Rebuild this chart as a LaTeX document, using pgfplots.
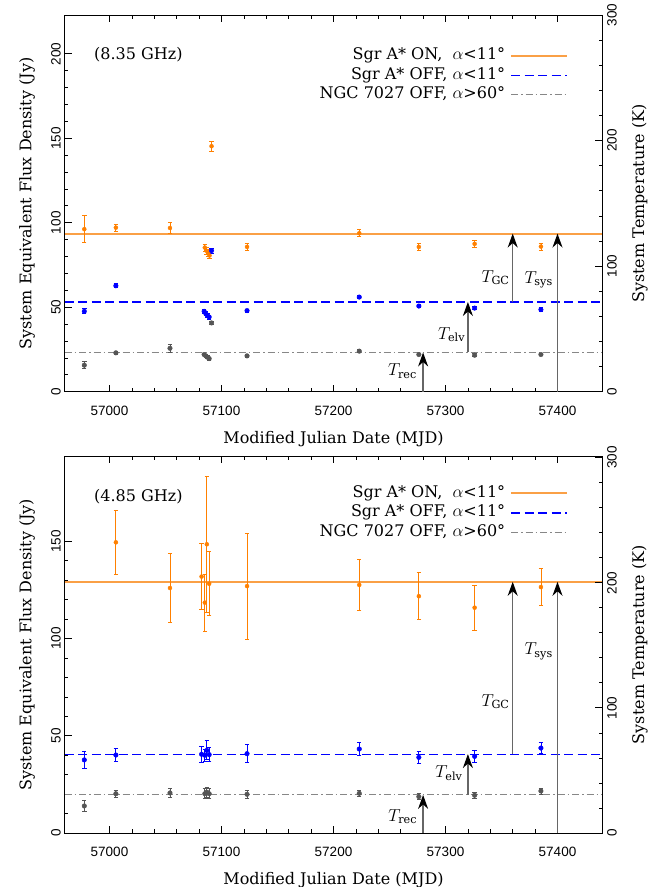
\documentclass[border=0pt]{standalone}
\usepackage{amsmath}
\usepackage{pgfplots}
\pgfplotsset{compat=1.18}
\usepackage{pgfplotstable}
\usepackage{fontspec}
\setmainfont{DejaVu Serif}
\newfontfamily\tickfont{Liberation Sans}
\usetikzlibrary{arrows.meta}
\newcommand\txt{\fontsize{16}{19}\selectfont}
\newcommand\tck{\tickfont\fontsize{13.5}{16}\selectfont}
\newcommand\tlab{\fontsize{16}{19}\selectfont}
\definecolor{ora}{RGB}{255,128,0}
\definecolor{oraline}{RGB}{250,160,70}
\definecolor{blu}{RGB}{0,0,255}
\definecolor{gry}{RGB}{85,85,85}
\definecolor{gryline}{RGB}{135,135,135}

% ---------- 8.35 GHz ----------
\pgfplotstableread{
x y e
56977.5 96.2 8
57005.7 97.1 2.2
57054.0 96.9 3.5
57085.1 85.3 2
57086.6 83.4 2
57088.0 82.0 2
57089.3 80.6 2
57091.1 145.3 3
57122.8 85.7 2
57223.0 93.8 2
57276.2 85.7 2
57326.0 87.5 1.8
57385.2 85.9 2
}\topOra
\pgfplotstableread{
x y e
56977.5 47.6 1.5
57005.7 62.7 1.2
57084.5 47.6 1.2
57086.0 46.2 1.2
57087.5 45.0 1.2
57089.0 44.2 1.2
57091.1 83.5 1.5
57122.8 48.0 1.0
57223.0 56.0 1.0
57276.2 50.7 1.0
57326.0 49.5 1.0
57385.2 48.6 1.0
}\topBlu
\pgfplotstableread{
x y e
56977.5 15.7 2
57005.7 23.0 0.8
57054.0 25.7 2.5
57084.5 22.0 0.8
57086.0 21.2 0.8
57087.5 20.4 0.8
57089.0 19.6 0.8
57091.1 40.7 0.8
57122.8 21.2 0.8
57223.0 24.0 0.8
57276.2 22.0 0.8
57326.0 21.6 0.8
57385.2 22.0 0.8
}\topGry

% ---------- 4.85 GHz ----------
\pgfplotstableread{
x y e
57005.7 149.5 16.6
57054.0 126.0 17.7
57082.2 131.9 17
57085.1 118.5 14.6
57086.9 148.5 35
57089.0 128.2 16.5
57122.8 127.0 27.3
57223.0 127.6 13
57276.2 121.8 12
57326.0 115.9 11.6
57385.2 126.5 9.4
}\botOra
\pgfplotstableread{
x y e
56977.5 37.6 4.4
57005.7 40.1 3.4
57082.2 40.5 4
57085.1 40.0 3
57086.9 42.5 4.9
57089.0 40.3 3.5
57122.8 40.8 4.7
57223.0 43.2 3.5
57276.2 38.9 3
57326.0 39.4 3
57385.2 43.7 3
}\botBlu
\pgfplotstableread{
x y e
56977.5 13.9 2.8
57005.7 20.2 1.8
57054.0 20.6 2.2
57085.1 20.2 2.5
57086.9 21.0 2.5
57089.0 20.2 2.5
57122.8 19.9 2
57223.0 20.4 1.5
57276.2 18.7 1.5
57326.0 19.4 1.5
57385.2 21.6 1.5
}\botGry

\tikzset{
  arr/.style={draw=black!60, line width=1.3pt,
    -{Stealth[length=14pt,width=10pt,inset=4.5pt,color=black]}},
}
\pgfplotsset{
  base/.style={
    scale only axis, width=537.6pt, height=376.6pt,
    xmin=56960, xmax=57440,
    xtick={57000,57100,57200,57300,57400}, minor x tick num=4,
    scaled x ticks=false, scaled y ticks=false,
    tick align=inside,
    major tick length=7pt, minor tick length=3.5pt,
    tick style={black, line width=0.8pt},
    axis line style={line width=0.8pt},
    /pgf/number format/1000 sep={},
    /pgf/number format/assume math mode=true,
    tick label style={font=\tck},
    xticklabel style={anchor=north, inner sep=0pt, yshift=-14pt},
    label style={font=\txt},
  },
  leftax/.style={
    base, ytick pos=left, minor y tick num=4,
    yticklabel style={rotate=90, anchor=south, inner xsep=0pt, inner ysep=3.8pt},
    xlabel={Modified Julian Date (MJD)},
    xlabel style={at={(axis description cs:0.5,-0.125)}, anchor=center},
    ylabel={System Equivalent Flux Density (Jy)},
    every axis y label/.style={at={(axis description cs:-0.070,0.5)}, rotate=90, anchor=center, font=\txt},
    legend style={draw=none, fill=none, anchor=north east, inner sep=0pt,
      row sep=1.5pt, column sep=4pt, font=\txt,
      nodes={inner sep=1pt, text height=12pt, text depth=4pt}},
    legend cell align=right, legend plot pos=right,
    legend image code/.code={\draw[##1] (0pt,0pt) -- (56pt,0pt);},
  },
  rightax/.style={
    base, hide x axis, ytick pos=right, yticklabel pos=right,
    ytick={0,100,200,300}, minor y tick num=4,
    yticklabel style={rotate=90, anchor=north, inner xsep=0pt, inner ysep=4.6pt},
    ylabel={System Temperature (K)},
    every axis y label/.style={at={(axis description cs:1.07,0.5)}, rotate=90, anchor=center, font=\txt},
  },
  pts/.style={only marks, mark=*, forget plot,
    error bars/.cd, y dir=both, y explicit,
    error bar style={line width=0.8pt},
    error mark options={rotate=90, mark size=2.2pt, line width=0.8pt}},
}

\begin{document}
\begin{tikzpicture}
\useasboundingbox (0pt,0pt) rectangle (670pt,887pt);

% ================= top panel =================
\begin{axis}[leftax, at={(64.7pt,495.3pt)}, anchor=south west,
  ymin=0, ymax=222.9, ytick={0,50,100,150,200},
  legend style={at={(0.937,0.917)}}]
\addplot[color=oraline, line width=2pt] coordinates {(56960,93.6) (57440,93.6)};
\addlegendentry{Sgr A* ON,\ \ $\alpha$<11°}
\addplot[color=blu, line width=1.1pt, dash pattern=on 9pt off 4.5pt] coordinates {(56960,53.1) (57440,53.1)};
\addlegendentry{Sgr A* OFF, $\alpha$<11°}
\addplot[color=gryline, line width=1.2pt, dash pattern=on 7pt off 3pt on 1.5pt off 3pt] coordinates {(56960,23.2) (57440,23.2)};
\addlegendentry{NGC 7027 OFF, $\alpha$>60°}

\addplot[color=ora, mark size=2pt, pts] table[x=x, y=y, y error=e] {\topOra};
\addplot[color=blu, mark size=2.3pt, pts] table[x=x, y=y, y error=e] {\topBlu};
\addplot[color=gry, mark size=2.3pt, pts] table[x=x, y=y, y error=e] {\topGry};

\draw[arr] (axis cs:57280,0) -- (axis cs:57280,23.2);
\draw[arr] (axis cs:57320,23.2) -- (axis cs:57320,53.1);
\draw[arr] (axis cs:57360,53.1) -- (axis cs:57360,93.6);
\draw[arr] (axis cs:57400,0) -- (axis cs:57400,93.6);
\node[font=\tlab] at (axis cs:57261.6,12.2) {$T_{\text{rec}}$};
\node[font=\tlab] at (axis cs:57305.5,33.8) {$T_{\text{elv}}$};
\node[font=\tlab] at (axis cs:57344.7,67.4) {$T_{\text{GC}}$};
\node[font=\tlab] at (axis cs:57383.2,66.3) {$T_{\text{sys}}$};
\node[font=\txt] at (rel axis cs:0.137,0.894) {(8.35 GHz)};
\end{axis}
\begin{axis}[rightax, at={(64.7pt,495.3pt)}, anchor=south west, ymin=0, ymax=300]
\addplot[draw=none] coordinates {(57000,0)};
\end{axis}

% ================= bottom panel =================
\begin{axis}[leftax, at={(64.7pt,54pt)}, anchor=south west,
  ymin=0, ymax=193.7, ytick={0,50,100,150},
  legend style={at={(0.937,0.926)}}]
\addplot[color=oraline, line width=2pt] coordinates {(56960,129.2) (57440,129.2)};
\addlegendentry{Sgr A* ON,\ \ $\alpha$<11°}
\addplot[color=blu, line width=1.1pt, dash pattern=on 9pt off 4.5pt] coordinates {(56960,40.6) (57440,40.6)};
\addlegendentry{Sgr A* OFF, $\alpha$<11°}
\addplot[color=gryline, line width=1.2pt, dash pattern=on 7pt off 3pt on 1.5pt off 3pt] coordinates {(56960,19.6) (57440,19.6)};
\addlegendentry{NGC 7027 OFF, $\alpha$>60°}

\addplot[color=ora, mark size=2pt, pts] table[x=x, y=y, y error=e] {\botOra};
\addplot[color=blu, mark size=2.3pt, pts] table[x=x, y=y, y error=e] {\botBlu};
\addplot[color=gry, mark size=2.3pt, pts] table[x=x, y=y, y error=e] {\botGry};

\draw[arr] (axis cs:57280,0) -- (axis cs:57280,19.6);
\draw[arr] (axis cs:57320,19.6) -- (axis cs:57320,40.6);
\draw[arr] (axis cs:57360,40.6) -- (axis cs:57360,129.2);
\draw[arr] (axis cs:57400,0) -- (axis cs:57400,129.2);
\node[font=\tlab] at (axis cs:57261.8,8.4) {$T_{\text{rec}}$};
\node[font=\tlab] at (axis cs:57303.1,30.7) {$T_{\text{elv}}$};
\node[font=\tlab] at (axis cs:57344.7,67.5) {$T_{\text{GC}}$};
\node[font=\tlab] at (axis cs:57383.2,93.3) {$T_{\text{sys}}$};
\node[font=\txt] at (rel axis cs:0.137,0.894) {(4.85 GHz)};
\end{axis}
\begin{axis}[rightax, at={(64.7pt,54pt)}, anchor=south west, ymin=0, ymax=301]
\addplot[draw=none] coordinates {(57000,0)};
\end{axis}
\end{tikzpicture}
\end{document}
